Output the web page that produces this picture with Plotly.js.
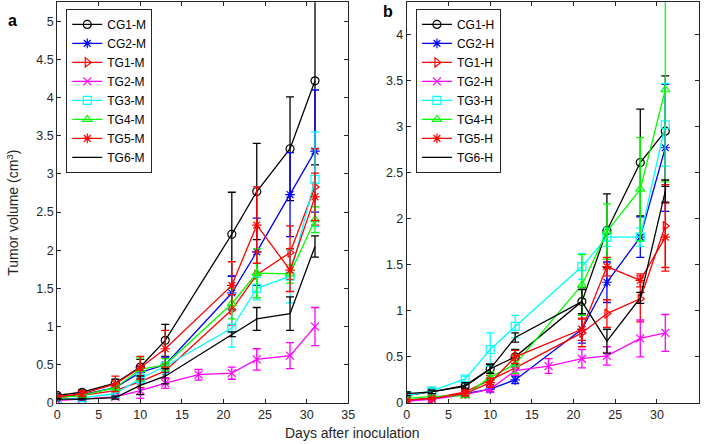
<!DOCTYPE html>
<html>
<head>
<meta charset="utf-8">
<script src="https://cdn.plot.ly/plotly-3.0.1.min.js"></script>
<style>
  html, body { margin: 0; padding: 0; background: #fff; }
  #myDiv { width: 705px; height: 444px; }
</style>
</head>
<body>
<div id="myDiv"></div>
<script>
// days of measurement (TG2 has an extra point at day 17)
let days = [0, 3, 7, 10, 13, 21, 24, 28, 31];
let daysTG2 = [0, 3, 7, 10, 13, 17, 21, 24, 28, 31];

// panel a - M groups
let cg1M = [0.10, 0.14, 0.26, 0.47, 0.82, 2.21, 2.77, 3.33, 4.22];
let cg1MErr = [0.02, 0.03, 0.05, 0.10, 0.21, 0.55, 0.63, 0.68, 1.10];
let cg2M = [0.08, 0.11, 0.20, 0.40, 0.50, 1.44, 1.98, 2.73, 3.30];
let cg2MErr = [0.02, 0.02, 0.04, 0.08, 0.10, 0.22, 0.44, 0.55, 0.80];
let tg1M = [0.07, 0.10, 0.16, 0.28, 0.42, 1.22, 1.68, 1.97, 2.83];
let tg1MErr = [0.02, 0.02, 0.04, 0.08, 0.10, 0.20, 0.30, 0.35, 0.50];
let tg2M = [0.03, 0.05, 0.08, 0.16, 0.26, 0.37, 0.39, 0.57, 0.62, 1.00];
let tg2MErr = [0.01, 0.01, 0.02, 0.10, 0.07, 0.07, 0.08, 0.14, 0.17, 0.25];
let tg3M = [0.04, 0.07, 0.12, 0.32, 0.48, 0.98, 1.50, 1.66, 2.93];
let tg3MErr = [0.01, 0.02, 0.03, 0.07, 0.10, 0.25, 0.15, 0.35, 0.62];
let tg4M = [0.07, 0.10, 0.20, 0.44, 0.50, 1.30, 1.70, 1.69, 2.40];
let tg4MErr = [0.02, 0.02, 0.04, 0.15, 0.08, 0.20, 0.32, 0.12, 0.17];
let tg5M = [0.08, 0.12, 0.25, 0.46, 0.71, 1.54, 2.33, 1.74, 2.70];
let tg5MErr = [0.02, 0.03, 0.10, 0.15, 0.24, 0.31, 0.50, 0.28, 0.31];
let tg6M = [0.05, 0.05, 0.07, 0.23, 0.35, 0.90, 1.10, 1.17, 2.05];
let tg6MErr = [0.01, 0.01, 0.02, 0.12, 0.10, 0.03, 0.15, 0.22, 0.14];

// panel b - H groups
let cg1H = [0.08, 0.12, 0.18, 0.37, 0.50, 1.10, 1.87, 2.61, 2.95];
let cg1HErr = [0.02, 0.02, 0.03, 0.05, 0.08, 0.15, 0.40, 0.58, 0.60];
let cg2H = [0.03, 0.05, 0.10, 0.15, 0.25, 0.80, 1.31, 1.80, 2.77];
let cg2HErr = [0.01, 0.01, 0.02, 0.03, 0.04, 0.15, 0.22, 0.22, 0.69];
let tg1H = [0.03, 0.05, 0.12, 0.25, 0.38, 0.76, 0.97, 1.13, 1.92];
let tg1HErr = [0.01, 0.01, 0.02, 0.05, 0.08, 0.15, 0.15, 0.25, 0.45];
let tg2H = [0.02, 0.04, 0.09, 0.15, 0.35, 0.40, 0.48, 0.51, 0.70, 0.76];
let tg2HErr = [0.01, 0.01, 0.02, 0.03, 0.05, 0.08, 0.10, 0.10, 0.20, 0.20];
let tg3H = [0.08, 0.13, 0.26, 0.58, 0.83, 1.48, 1.80, 1.80, 3.02];
let tg3HErr = [0.02, 0.03, 0.03, 0.18, 0.12, 0.14, 0.10, 0.10, 0.45];
let tg4H = [0.05, 0.07, 0.08, 0.28, 0.42, 1.28, 1.86, 2.32, 3.40];
let tg4HErr = [0.01, 0.01, 0.02, 0.06, 0.10, 0.33, 0.30, 0.56, 1.00];
let tg5H = [0.03, 0.05, 0.10, 0.22, 0.50, 0.80, 1.48, 1.33, 1.80];
let tg5HErr = [0.01, 0.01, 0.02, 0.05, 0.07, 0.12, 0.10, 0.07, 0.37];
let tg6H = [0.10, 0.12, 0.19, 0.37, 0.71, 1.10, 0.67, 1.14, 2.30];
let tg6HErr = [0.02, 0.02, 0.03, 0.05, 0.05, 0.13, 0.13, 0.06, 0.12];

let groupNames = ["CG1", "CG2", "TG1", "TG2", "TG3", "TG4", "TG5", "TG6"];
let groupColors = ["#000000", "#0000ff", "#ff0000", "#ff00ff", "#00ffff", "#00ff00", "#ff0000", "#000000"];
let groupSymbols = ["circle-open", "asterisk-open", "triangle-right-open", "x-thin-open",
  "square-open", "triangle-up-open", "asterisk-open", null];

function makeTrace(i, x, y, err, suffix, xa, ya, leg) {
  let trace = {
    x: x,
    y: y,
    name: groupNames[i] + "-" + suffix,
    mode: groupSymbols[i] ? "lines+markers" : "lines",
    xaxis: xa,
    yaxis: ya,
    legend: leg,
    line: { color: groupColors[i], width: 1.3 },
    error_y: { type: "data", array: err, visible: true, color: groupColors[i], thickness: 1.3, width: 4 },
    cliponaxis: true
  };
  if (groupSymbols[i]) {
    trace.marker = { symbol: groupSymbols[i], size: 8, color: groupColors[i], line: { color: groupColors[i], width: 1.2 } };
  }
  return trace;
}

let seriesM = [[cg1M, cg1MErr], [cg2M, cg2MErr], [tg1M, tg1MErr], [tg2M, tg2MErr],
  [tg3M, tg3MErr], [tg4M, tg4MErr], [tg5M, tg5MErr], [tg6M, tg6MErr]];
let seriesH = [[cg1H, cg1HErr], [cg2H, cg2HErr], [tg1H, tg1HErr], [tg2H, tg2HErr],
  [tg3H, tg3HErr], [tg4H, tg4HErr], [tg5H, tg5HErr], [tg6H, tg6HErr]];

let data = [];
for (let i = 0; i < 8; i++) {
  let xs = i == 3 ? daysTG2 : days;
  data.push(makeTrace(i, xs, seriesM[i][0], seriesM[i][1], "M", "x", "y", "legend"));
}
for (let i = 0; i < 8; i++) {
  let xs = i == 3 ? daysTG2 : days;
  data.push(makeTrace(i, xs, seriesH[i][0], seriesH[i][1], "H", "x2", "y2", "legend2"));
}

let axisColor = "#262626";
let fontFam = "Liberation Sans, Arial, sans-serif";

function xAxis(domain, anchor) {
  return {
    domain: domain, anchor: anchor, range: [0, 35], dtick: 5, tick0: 0,
    ticks: "inside", ticklen: 4, tickcolor: axisColor, mirror: "ticks",
    showline: true, linecolor: axisColor, linewidth: 1, showgrid: false, zeroline: false,
    tickfont: { family: fontFam, size: 12.5, color: axisColor }
  };
}
function yAxis(domain, anchor, top) {
  return {
    domain: domain, anchor: anchor, range: [0, top], dtick: 0.5, tick0: 0,
    ticks: "inside", ticklen: 4, tickcolor: axisColor, mirror: "ticks",
    showline: true, linecolor: axisColor, linewidth: 1, showgrid: false, zeroline: false,
    tickfont: { family: fontFam, size: 12.5, color: axisColor }
  };
}

let legendStyle = {
  xanchor: "left", yanchor: "top", y: 0.98,
  bgcolor: "#ffffff", bordercolor: axisColor, borderwidth: 1,
  font: { family: fontFam, size: 12, color: "#000000" },
  tracegroupgap: 0
};

let layout = {
  width: 705,
  height: 444,
  margin: { l: 0, r: 0, t: 0, b: 0 },
  paper_bgcolor: "#ffffff",
  plot_bgcolor: "#ffffff",
  showlegend: true,
  xaxis: xAxis([0.081, 0.494], "y"),
  yaxis: yAxis([0.0925, 0.995], "x", 5.25),
  xaxis2: xAxis([0.577, 0.991], "y2"),
  yaxis2: yAxis([0.0925, 0.995], "x2", 4.35),
  legend: Object.assign({ x: 0.094 }, legendStyle),
  legend2: Object.assign({ x: 0.59 }, legendStyle),
  annotations: [
    { text: "Days after inoculation", xref: "paper", yref: "paper", x: 0.5, y: 0.025,
      xanchor: "center", yanchor: "middle", showarrow: false,
      font: { family: fontFam, size: 14, color: axisColor } },
    { text: "Tumor volume (cm<sup>3</sup>)", xref: "paper", yref: "paper", x: 0.018, y: 0.52,
      xanchor: "center", yanchor: "middle", textangle: -90, showarrow: false,
      font: { family: fontFam, size: 14, color: axisColor } },
    { text: "<b>a</b>", xref: "paper", yref: "paper", x: 0.018, y: 0.953,
      xanchor: "center", yanchor: "middle", showarrow: false,
      font: { family: fontFam, size: 16, color: "#000000" } },
    { text: "<b>b</b>", xref: "paper", yref: "paper", x: 0.551, y: 0.975,
      xanchor: "center", yanchor: "middle", showarrow: false,
      font: { family: fontFam, size: 16, color: "#000000" } }
  ]
};

Plotly.newPlot("myDiv", data, layout, { staticPlot: true });
</script>
</body>
</html>
